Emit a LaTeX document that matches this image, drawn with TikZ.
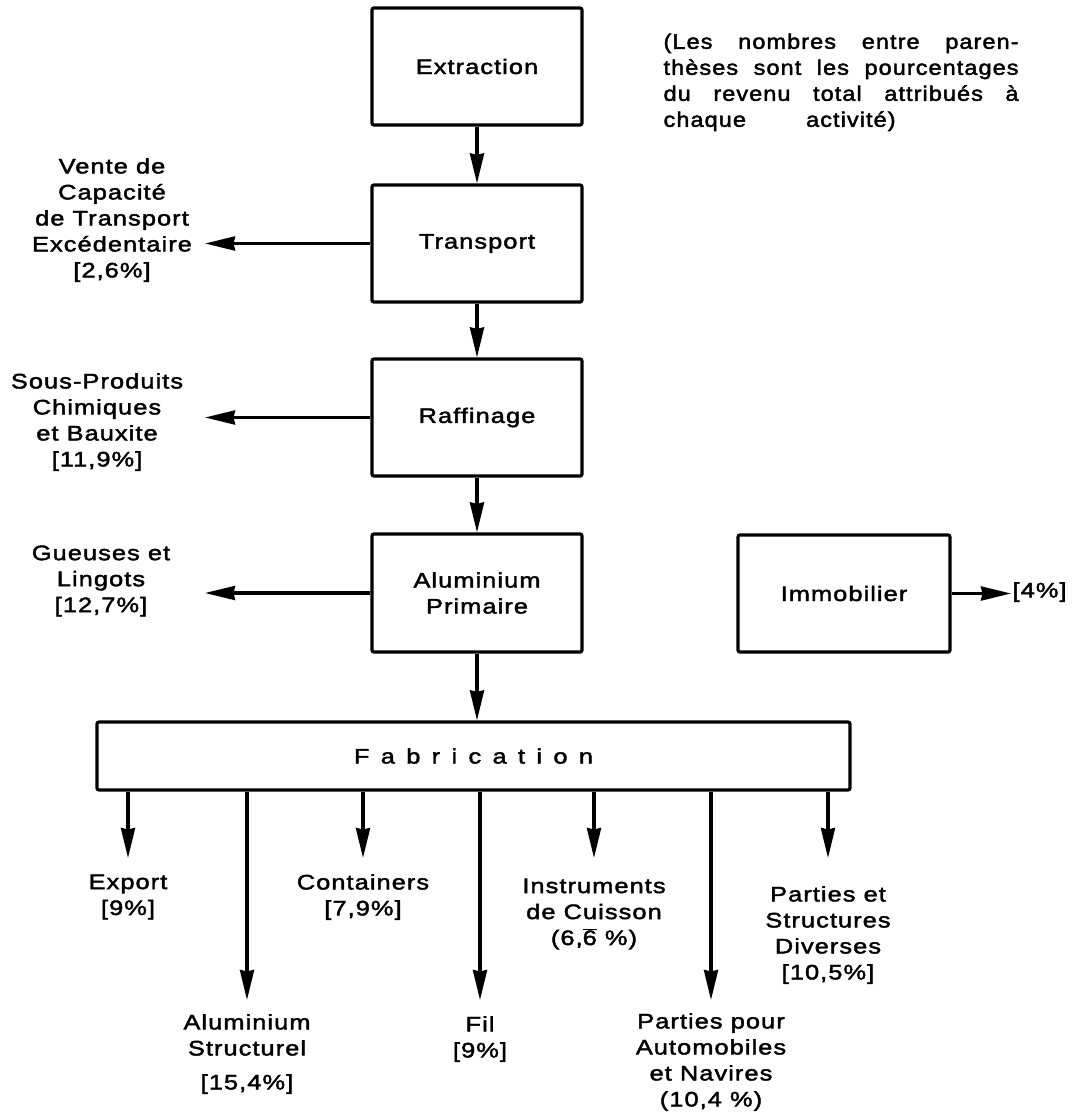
\documentclass[tikz,border=0pt]{standalone}
\usepackage{fontspec}
\setmainfont{Liberation Sans}[FakeStretch=1.21,LetterSpace=5,FakeBold=2]
\newfontfamily\notefont{Liberation Sans}[FakeStretch=1.12,LetterSpace=5,FakeBold=2]
\newfontfamily\spacedfont{Liberation Sans}[FakeStretch=1.21,LetterSpace=54,FakeBold=2]
\usetikzlibrary{arrows.meta}

\begin{document}
\begin{tikzpicture}[x=1bp,y=-1bp,line width=3.2bp,
  font=\fontsize{21bp}{26bp}\selectfont,
  box/.style={draw,rounded corners=2bp,minimum width=210bp,minimum height=117bp,
              align=center,inner sep=0pt},
  arr/.style={-{Stealth[length=30bp,width=14bp,inset=1.5bp]}},
  lab/.style={align=center,inner sep=0pt}]

\fill[white] (0,0) rectangle (1076,1115);
\useasboundingbox (0,0) rectangle (1076,1115);

% main chain of activities
\node[box] (extr)  at (477,66.5)  {Extraction};
\node[box] (trans) at (477,243.5) {Transport};
\node[box] (raff)  at (477,417.5) {Raffinage};
\node[box,minimum height=118bp] (prim) at (477,593) {Aluminium\\Primaire};
\node[box,minimum width=212bp,minimum height=117bp] (immo) at (844,593.5) {Immobilier};
\node[box,minimum width=753bp,minimum height=68bp] (fab) at (473.5,756) {\spacedfont Fabrication};

% explanatory note
\node[anchor=north west,align=left,inner sep=0pt,font=\fontsize{21bp}{26bp}\notefont] (note) at (662,32)
  {\makebox[355bp][s]{(Les nombres entre paren-}\\
   \makebox[355bp][s]{thèses sont les pourcentages}\\
   \makebox[355bp][s]{du revenu total attribués à}\\
   \makebox[232bp][s]{chaque activité)}};

% side outputs
\node[lab] (vente) at (112,220) {Vente de\\Capacité\\de Transport\\Excédentaire\\{[2,6\%]}};
\node[lab] (sous)  at (97,422)  {Sous-Produits\\Chimiques\\et Bauxite\\{[11,9\%]}};
\node[lab] (gueu)  at (101,581) {Gueuses et\\Lingots\\{[12,7\%]}};
\node[lab,anchor=west] (quatre) at (1011,592) {[4\%]};

\coordinate (tipL) at (205,0);

\draw[arr] (extr) -- (trans);
\draw[arr] (trans) -- (raff);
\draw[arr] (raff) -- (prim);
\draw[arr] (prim) -- (prim |- fab.north);

\draw[arr] (trans.west) -- (trans.west -| tipL);
\draw[arr] (raff.west) -- (raff.west -| tipL);
\draw[arr] (prim.west) -- (prim.west -| tipL);
\draw[arr] (immo.east) -- (immo.east -| quatre.west);

% products of fabrication
\coordinate (tExport) at (128,858);
\coordinate (tStruct) at (247,1000);
\coordinate (tCont)   at (363,858);
\coordinate (tFil)    at (480,1000);
\coordinate (tInstr)  at (594,858);
\coordinate (tAutos)  at (711,1000);
\coordinate (tDivers) at (828,858);

\foreach \t in {tExport,tStruct,tCont,tFil,tInstr,tAutos,tDivers}
  \draw[arr] (fab.south -| \t) -- (\t);

\node[lab] (export) at (128,897)  {Export\\{[9\%]}};
\node[lab] (struct) at (247,1054) {Aluminium\\Structurel\\[8bp]{[15,4\%]}};
\node[lab] (cont)   at (363,897)  {Containers\\{[7,9\%]}};
\node[lab] (fil)    at (480,1039) {Fil\\{[9\%]}};
\node[lab] (instr)  at (594,914)  {Instruments\\de Cuisson\\(6,$\overline{\mbox{6}}$ \%)};
\node[lab] (autos)  at (711,1062) {Parties pour\\Automobiles\\et Navires\\(10,4 \%)};
\node[lab] (divers) at (828,935)  {Parties et\\Structures\\Diverses\\{[10,5\%]}};

\end{tikzpicture}
\end{document}
